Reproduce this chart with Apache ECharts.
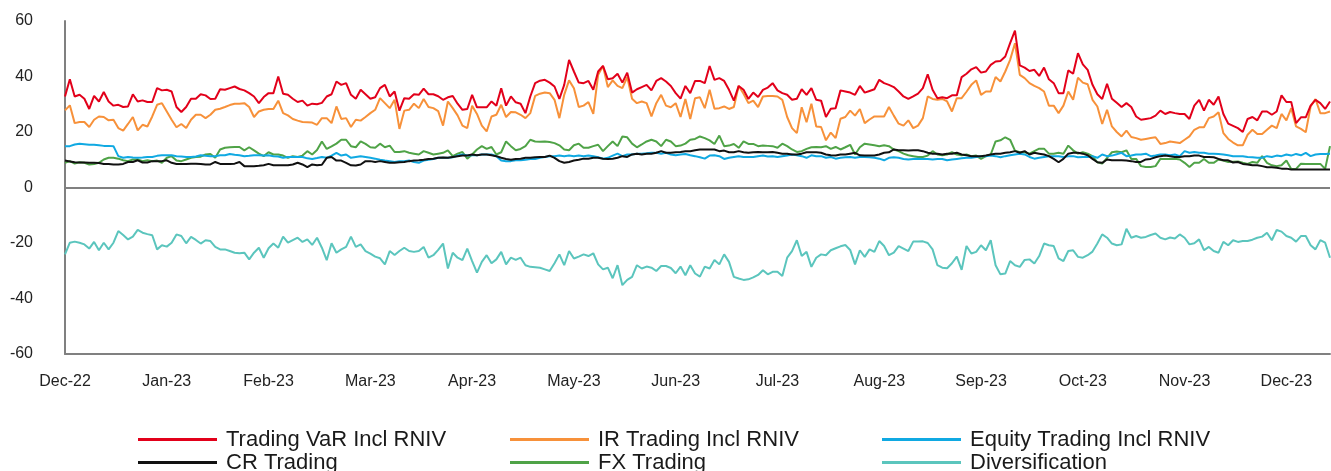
<!DOCTYPE html>
<html>
<head>
<meta charset="utf-8">
<script src="https://cdn.jsdelivr.net/npm/echarts@6/dist/echarts.min.js"></script>
<style>
html,body{margin:0;padding:0;background:#fff;}
#container{width:1331px;height:471px;}
</style>
</head>
<body>
<div id="container"></div>
<script>
// month tick labels, one every 21 trading days
var monthLabels = ['Dec-22','Jan-23','Feb-23','Mar-23','Apr-23','May-23','Jun-23','Jul-23','Aug-23','Sep-23','Oct-23','Nov-23','Dec-23'];

var tradingVar = [
 32.8,39,32.8,33.4,32,28.3,33,31,34.4,31,29.5,29.8,29,29.2,33.6,31,31.4,30.8,30.8,35.8,
 35,35.2,34.6,29,27.2,29,32,32,33.6,33.2,31.9,32,35.4,35.2,35.8,36.4,35.5,35,34,32.8,
 30.4,32.6,34,34,40,33.8,33.4,32,30.8,31.3,29.5,30.2,30,30.5,32.8,33.6,38.2,
 37,37.6,33.4,32,35.2,33.6,32,32.5,35.8,37,32.8,34.6,27.7,32.2,32,33.6,33.4,35.6,33.6,33.6,
 32.9,31.6,32.5,33,30.2,28,28.3,33.4,28.9,28.9,28.9,31,29.5,35.8,29.5,32.8,30.7,30.2,26.8,32.8,
 37.6,38.5,38.8,37.8,36.4,31.9,37,46,41.8,37.8,37.6,38.4,35.2,41.8,43.8,39,39.4,41,37.8,41.4,
 34.2,35.4,36.2,37,35,38.4,39.4,38.2,
 36.6,34,32,36.6,34,38.4,38.4,37.6,43.8,38.8,39.4,38.4,35.2,31.3,36.6,35.2,31.9,34.2,32.6,35.2,
 36.0,37.6,35,34,33.4,31.6,32,35.4,33.4,35.8,31.6,31.3,25.4,28.4,28.6,35,34.6,34.2,33.4,36.6,
 34.2,34.8,35.4,38.8,37.6,37,36.2,34.6,32.8,31.9,32.8,33.8,35.8,40.8,35.2,32.2,32.5,32.2,33.2,33.2,
 39.8,41.0,42.6,43.4,41.4,41.8,44.2,45.4,
 45.6,47.2,52,56.5,44,43.2,42,42.4,40.2,43.2,39,37.6,34,34,42.2,41,48.4,44.4,42.4,37,
 33.6,31.9,37.4,32,30.5,29,30.4,29,25.6,24.4,24.7,25,25.9,27.7,26.5,27.2,26.8,26.5,26.5,24.7,
 29.5,31.6,27.7,31.6,29.8,32.8,26.5,23,22.2,21.4,20,24.7,25.4,24.2,27.4,27.4,26.2,27.4,33.2,30.8,
 30.8,23.2,25.3,25.3,29.5,31.6,30.4,28.3,31
];

var irTrading = [
 27.8,29.6,23.2,23.6,23.6,21.8,24.4,25.6,25.4,24.2,24.4,21.4,20.5,22.9,25.4,20.6,22.6,22,25.6,29.8,
 30.4,27.4,24.4,21.7,22.9,21.4,24.4,26.2,26.2,25,26.2,28,28.4,29,29.7,30.2,30.2,30.4,29,25.4,
 27.4,28,28.3,28.3,31.3,26.8,26,24.7,24.1,23.6,23.5,23.4,22.6,25,25,23.2,29.2,
 24.7,25,21.8,24.4,24.1,25.4,26.8,28,32.2,30.4,28.6,31.6,21.1,27.7,28,30.2,28.6,31.9,29,28.6,
 27.5,22.3,31,28.6,26,22.3,21.4,29.5,26.5,22.3,20.2,25.6,26.2,29.8,25.4,27.2,27.1,26.2,25,26.8,
 33,33.8,34.2,34,31.6,25,33.4,38.6,35.8,29,29.5,30.8,26.5,40.6,43.8,36.2,38.6,36.6,35.8,39.8,
 32,30.4,31,30.4,25.6,30.4,33.4,29.5,
 28.9,30.4,25.4,31.9,24.7,32.2,32.5,28.6,35.2,28.4,28.6,29.2,28.3,29,36.6,33.8,30.4,31.3,29,32.8,
 33.0,33,32.8,31.6,25.4,21.4,19.6,28.9,23.5,30.2,22,21.8,17,19.8,17.8,24.8,25.4,27.7,25.9,28.3,
 23.2,24.5,25.6,25.6,25.6,29,25.9,23,22.3,24.2,21.4,22.3,25,32.8,31.9,31.6,31.9,31,27.4,32.2,
 32.2,34.5,37,38.6,33.4,34.6,34.6,39.8,
 38.2,41.8,46,52,40.6,39.4,37.6,36.6,35.8,34.6,29.5,29.5,26.8,29.5,34.6,31.6,39.6,37.8,37.2,31.6,
 29.2,22.9,28,22,20.0,18.4,20.5,18.2,17.8,17.2,17.5,17.8,18.1,15.7,16,16.6,16.3,16,17.2,18.4,
 20.8,21.7,21.7,25,25.6,27.1,19.6,17.5,16.2,15.2,15.2,19,20.8,19.3,19.3,20.8,22.3,21.4,26.5,24.2,
 28.6,22,21.1,19.9,29.2,31.9,26.8,26.8,27.4
];

var equityTrading = [
 14.9,14.9,15.5,15.8,15.6,15.4,15.4,15.2,15.0,15.0,14.9,11.3,10.7,11,10.8,10.7,10.8,11,11,11.4,
 11.6,11.6,11.6,11.3,11.2,11,11,11.2,11.6,11.4,11.3,11.3,11.6,11.6,12.1,11.8,11.6,11.3,11.4,11.6,
 11.6,11.5,11.6,11.3,11.2,10.7,11,11,11,11,10.5,10.3,10.6,11,10.7,11.5,12.5,
 11.5,11.9,10.7,11,11.3,11,10.7,10.4,10,9.7,9.5,9.2,9.5,9.5,9.7,9.2,8.9,9.7,10,10.3,
 10.7,10.7,10.7,10.9,11.5,11.9,11.5,11.6,11.6,11.9,11.9,11.9,11.3,9.7,9.5,9.5,9.8,9.8,10,10.3,
 10.3,10.7,11.0,11.3,11.3,11.5,11.3,11.5,11.3,11.5,11.3,11.5,11.3,10.9,10.4,10.7,11.5,12.2,11.3,11.9,
 11.9,12.2,12.2,12.3,12.5,12.5,12.2,12.5,
 11.9,11.6,11.9,12.1,11.6,11.3,10.9,10.4,11.5,11.6,11.3,10.3,10.7,11,11.3,11,11,11,11.3,11.5,
 11.2,11.3,11,11.3,11.5,11.9,11.6,11.3,10.7,11.6,11.3,11.3,10.7,11,10.4,10.7,10.9,11,10.7,11,
 11,10.9,10.7,10.4,9.8,10.7,10.9,10.7,10.3,10.1,10.3,10.4,10.3,10.3,10.1,10.3,10.3,9.8,10.1,10.3,
 10.5,10.7,10.7,11,11.3,11.3,11.5,11.3,
 10.9,11.3,11.6,11.9,12.2,11.9,11,10.4,10.7,11,11.3,11.3,11.3,11,11.3,11.3,10.9,11,11,11.3,
 10.7,11.9,11.3,11.5,12.0,12.5,11.3,11.5,11.9,11.9,12.2,11.3,11.5,11.9,11.9,11.6,11.9,11.3,13.1,12.5,
 12.8,12.5,12.5,12.2,12.2,12.1,11.9,11.6,11.3,11.3,11.3,11,10.9,10.7,10.7,11.3,11,11.5,11.3,11.9,
 11.5,12.1,11.6,12.5,11.3,11.9,12.1,12.1,12.2
];

var crTrading = [
 9.7,9.4,9.1,9.0,9.0,8.9,8.9,8.8,8.5,8.5,8.3,8.3,8.5,9.2,9.2,9.8,9.0,9.0,9.5,9.5,
 9.5,9.8,8.9,8.5,8.5,8.5,8.6,8.6,8.5,8.3,8.3,9.2,8.5,8.5,8.5,8.6,9.2,7.7,7.7,7.7,
 7.8,8.0,8.5,8.0,8.0,8.0,8.0,8.3,8.9,8.3,7.3,8.3,8.0,8.2,10.7,11,9.7,
 9.7,8.9,8,7.9,8.3,9.5,9.5,9.2,9.5,9.2,8.9,8.9,9.1,9.2,9.5,9.7,9.8,10,10.3,10.4,
 10.7,10.8,10.7,11,11.3,11.5,11.5,11.9,11.6,11.9,11.9,11.6,11.3,10.7,10.3,10,10.3,10.4,10.7,10.7,
 10.9,11.0,11,11.5,10.7,9.5,8.9,9.2,9.7,10,10.4,10.4,10.7,10.7,10.4,10.3,10.4,10.7,11.3,11,
 11.9,12.2,11.9,12.2,12.2,12.5,13.1,12.5,
 12.5,12.7,12.8,13.1,13.1,13.4,13.7,13.7,13.7,13.7,13.1,13.3,12.7,12.7,13.1,12.7,12.5,12.7,12.8,12.7,
 12.7,12.8,12.5,12.2,12.2,11.9,11.9,12.2,12.7,12.7,12.7,12.5,11.9,11.6,11.5,11.9,11.9,12.2,12.5,11.6,
 11.5,11.5,11.5,11.9,12.5,12.7,13.7,13.4,13.4,13.3,13.4,13.4,13.1,12.5,12.2,12.2,11.9,12.2,12.2,12.5,
 11.9,11.6,11.3,11.3,11.3,11.5,11.9,12.2,
 12.2,12.5,12.7,13.1,12.5,13.1,11.9,12.5,12.2,11.9,11.3,10.3,9.1,10.3,12.2,12.5,12.5,12.2,11.6,10.3,
 9.1,8.9,10.1,9.8,9.8,9.8,9.7,9.5,9.2,9.2,10.1,10.3,10.9,11.3,11.5,11.3,11,11,11.3,11.3,
 11.5,11.5,11,11,10.9,10.3,9.8,9.8,9.0,9.2,8.5,8.3,8,8,7.7,7.3,7.3,7.1,6.8,6.8,
 6.5,6.5,6.5,6.5,6.5,6.5,6.5,6.5,6.5
];

var fxTrading = [
 8.9,9.5,8.6,9.1,8.9,8.3,8.5,8.9,10.1,10.7,10.7,10.4,9.8,9.5,10.1,10.1,9.5,9.8,9.5,9.7,
 8.9,10.7,11.3,9.7,9.5,10.1,10.7,11.0,11.1,11.9,12.1,10.7,13.7,14.3,14.5,14.6,14.6,13.4,14.5,13.4,
 12.2,11.3,12.7,11.9,11.9,11.5,10.7,11.3,11.0,11.5,13.1,11.9,13.5,16.6,13.9,14.8,15.8,
 17.2,17.2,14.9,14.5,16.6,15.7,14.5,14.3,15.8,14.5,15.1,12.8,12.8,13.1,12.5,12.2,11.9,13.1,12.5,11.9,
 12.2,12.5,13.4,11.3,12.2,12.8,10.4,11.9,13.7,14.9,13.9,14.6,11.9,12.7,16.6,14.9,13.4,13.9,14.9,17.2,
 16.6,16.5,16.6,16.4,16,15.2,13.7,13.4,15.2,15.8,14.3,14.3,14.9,15.4,13.1,14.9,16.6,14.9,18.4,18.1,
 15.8,14.5,15.5,16.6,17.2,16.6,14.9,17.2,
 16.6,14.9,15.1,15.8,17.2,17.5,18.4,17.8,17,15.7,18.7,14.9,15.1,15.7,14.3,16.6,15.7,15.7,14.9,15.1,
 15.0,14.9,14.3,15.8,14.9,13.7,12.8,13.1,13.9,14.5,14.6,14.5,14.9,13.9,14.6,13.7,14.5,15.4,11.9,14.5,
 15.8,15.5,15.2,14.9,15.2,14.9,13.7,13.1,12.2,11.6,11.3,11,11,11.5,13.1,11.9,11.6,11.9,12.7,11.9,
 11.6,11.9,11.3,11.5,10.3,11.3,11.9,16.6,
 17,18.1,17.2,13.3,12.7,12.7,12.2,13.1,14,14,12.2,12.2,12.5,12.2,15.1,13.4,12.2,12.7,12.2,11.3,
 9.1,8.6,10.7,12.7,13.0,12.7,13.4,10.3,10.3,7.7,7.4,7.4,7.7,10.3,10.3,10.3,10.4,10.1,8.9,7.4,
 8.9,8.9,10.3,8.9,8.9,10.1,9.7,9.2,9.3,9.4,8.9,8.5,9.2,8.9,11.3,8.9,8,7.7,8,9.7,
 6.7,6.7,8.6,8.5,8.5,8.5,8.5,6.7,14.9
];

var diversification = [
 -24.1,-19.9,-19.5,-19.9,-20.5,-22,-19.6,-22.6,-19.9,-22.3,-19.9,-15.7,-17.1,-18.7,-17.7,-15.3,-16.3,-16.8,-17.2,-22.3,
 -20.8,-21.3,-19.9,-16.9,-17.5,-20.1,-17.8,-18.9,-20.2,-19,-19.3,-21.4,-22.3,-22.3,-22.9,-23.5,-23.7,-23.5,-25.9,-23.5,
 -21.7,-25.3,-21.9,-20.2,-21.7,-17.7,-19.9,-19,-18.1,-19.6,-18.7,-20.7,-18.1,-21.7,-26.2,-20.1,-23.5,
 -22.3,-21.4,-17.7,-21.4,-20.5,-22.9,-23.8,-24.9,-25.5,-27.7,-22.9,-24.3,-22.9,-21.7,-22.9,-23.2,-22.9,-21.4,-25.3,-24.4,
 -22.5,-20.2,-29.2,
 -23.5,-25.3,-26.2,-22,-26.5,-30.7,-26.8,-24.4,-27.3,-25.9,-23.2,-27.7,-25.3,-26.1,-25.3,-28,-28.6,-28.7,-28.9,-29.5,
 -30.1,-27.3,-24.1,-28,-22.9,-25.6,-24.9,-24.1,-24.7,-23.7,-27.7,-29.5,-28.9,-32.7,-28,-35.2,-33.3,-32.2,-28,-29.2,
 -28.5,-28.9,-30.1,-28.3,-28.3,-29.0,-30.9,-28.5,-31.6,-28,-31,-32.1,-28.5,-29.2,-26.1,-27.7,-24.1,-26.8,-32.2,-32.8,
 -33.3,-33.1,-32.4,-31.5,-29.8,-31.3,-30.4,-30.4,-31.9,-25.3,-22.9,-19,-24.7,-23.2,-28.6,-25.3,-24.1,-24.4,-22.6,-21.9,
 -21.2,-20.7,-22.5,-27.7,-22.6,-25,-22.3,-23.2,-19.3,-21.1,-24.4,
 -23.5,-21.1,-22,-22.9,-19.5,-19.5,-19.4,-20.0,-22.3,-28,-28.9,-29.1,-27.3,-24.9,-29.7,-21.1,-23.8,-23.2,-20.8,-22.6,
 -19,-28,-31.3,-31,-26.5,-28,-28.6,-26.1,-25.9,-27.4,-24.7,-20.2,-20.8,-21.1,-25.5,-26.5,-22.9,-22.6,-25,-25.3,
 -24.4,-23.1,-20.2,-16.9,-18.1,-20.2,-20.8,-20.5,-14.9,-18.1,-17.5,-18.1,-17.8,-17.1,-16.6,-18.1,-18.7,-18.0,-18.4,-16.9,
 -18.1,-20.5,-20.1,-18.7,-22.6,-21.4,-22.9,-23.5,-19.6,-20.8,-19,-19.6,-19.3,-19.3,-18.8,-18.1,-17.7,-16.3,-19,-15.3,
 -15.9,-17.5,-18.1,-19.5,-17.5,-17.5,-20.8,-22.3,-19,-19.9,-25.3
];

// trading days from 1 Dec 2022
var days = [];
var d = new Date(2022, 11, 1);
while (days.length < tradingVar.length) {
  if (d.getDay() != 0 && d.getDay() != 6) {
    days.push(d.getFullYear() + '-' + (d.getMonth() + 1) + '-' + d.getDate());
  }
  d.setDate(d.getDate() + 1);
}

var font = 'Liberation Sans, Arial, sans-serif';
var gray = '#808080';

function line(name, data, color) {
  return {
    name: name,
    type: 'line',
    data: data,
    symbol: 'none',
    lineStyle: { color: color, width: 2 },
    itemStyle: { color: color }
  };
}

var series = [
  line('Diversification', diversification, '#5bc5bd'),
  line('FX Trading', fxTrading, '#4fa347'),
  line('Equity Trading Incl RNIV', equityTrading, '#10a9e2'),
  line('CR Trading', crTrading, '#111111'),
  line('IR Trading Incl RNIV', irTrading, '#f7913a'),
  line('Trading VaR Incl RNIV', tradingVar, '#e2001a')
];
// zero line
series[0].markLine = {
  silent: true,
  symbol: 'none',
  label: { show: false },
  lineStyle: { color: gray, type: 'solid', width: 2 },
  data: [{ yAxis: 0 }]
};

var dom = document.getElementById('container');
var myChart = echarts.init(dom);
var option = {
  animation: false,
  grid: { left: 65, right: 1, top: 21, bottom: 117 },
  legend: {
    data: ['Trading VaR Incl RNIV', 'IR Trading Incl RNIV', 'Equity Trading Incl RNIV',
           'CR Trading', 'FX Trading', 'Diversification'],
    left: 138, top: 428, width: 1130,
    padding: 0,
    icon: 'rect',
    itemWidth: 79, itemHeight: 3, itemGap: 0,
    selectedMode: false,
    textStyle: { fontFamily: font, fontSize: 22, color: '#1a1a1a', width: 284, padding: [0, 0, 0, 4], lineHeight: 23 }
  },
  xAxis: {
    type: 'category',
    data: days,
    boundaryGap: false,
    axisLine: { onZero: false, lineStyle: { color: gray, width: 2 } },
    axisTick: { show: false },
    axisLabel: {
      interval: function (index) { return index % 21 === 0; },
      formatter: function (value, index) { return monthLabels[Math.round(index / 21)]; },
      fontFamily: font, fontSize: 16, color: '#222', margin: 20
    },
    splitLine: { show: false }
  },
  yAxis: {
    type: 'value',
    min: -60, max: 60, interval: 20,
    axisLine: { show: true, lineStyle: { color: gray, width: 2 } },
    axisTick: { show: false },
    axisLabel: { fontFamily: font, fontSize: 16, color: '#222', margin: 32 },
    splitLine: { show: false }
  },
  series: series
};
myChart.setOption(option, true);
</script>
</body>
</html>
